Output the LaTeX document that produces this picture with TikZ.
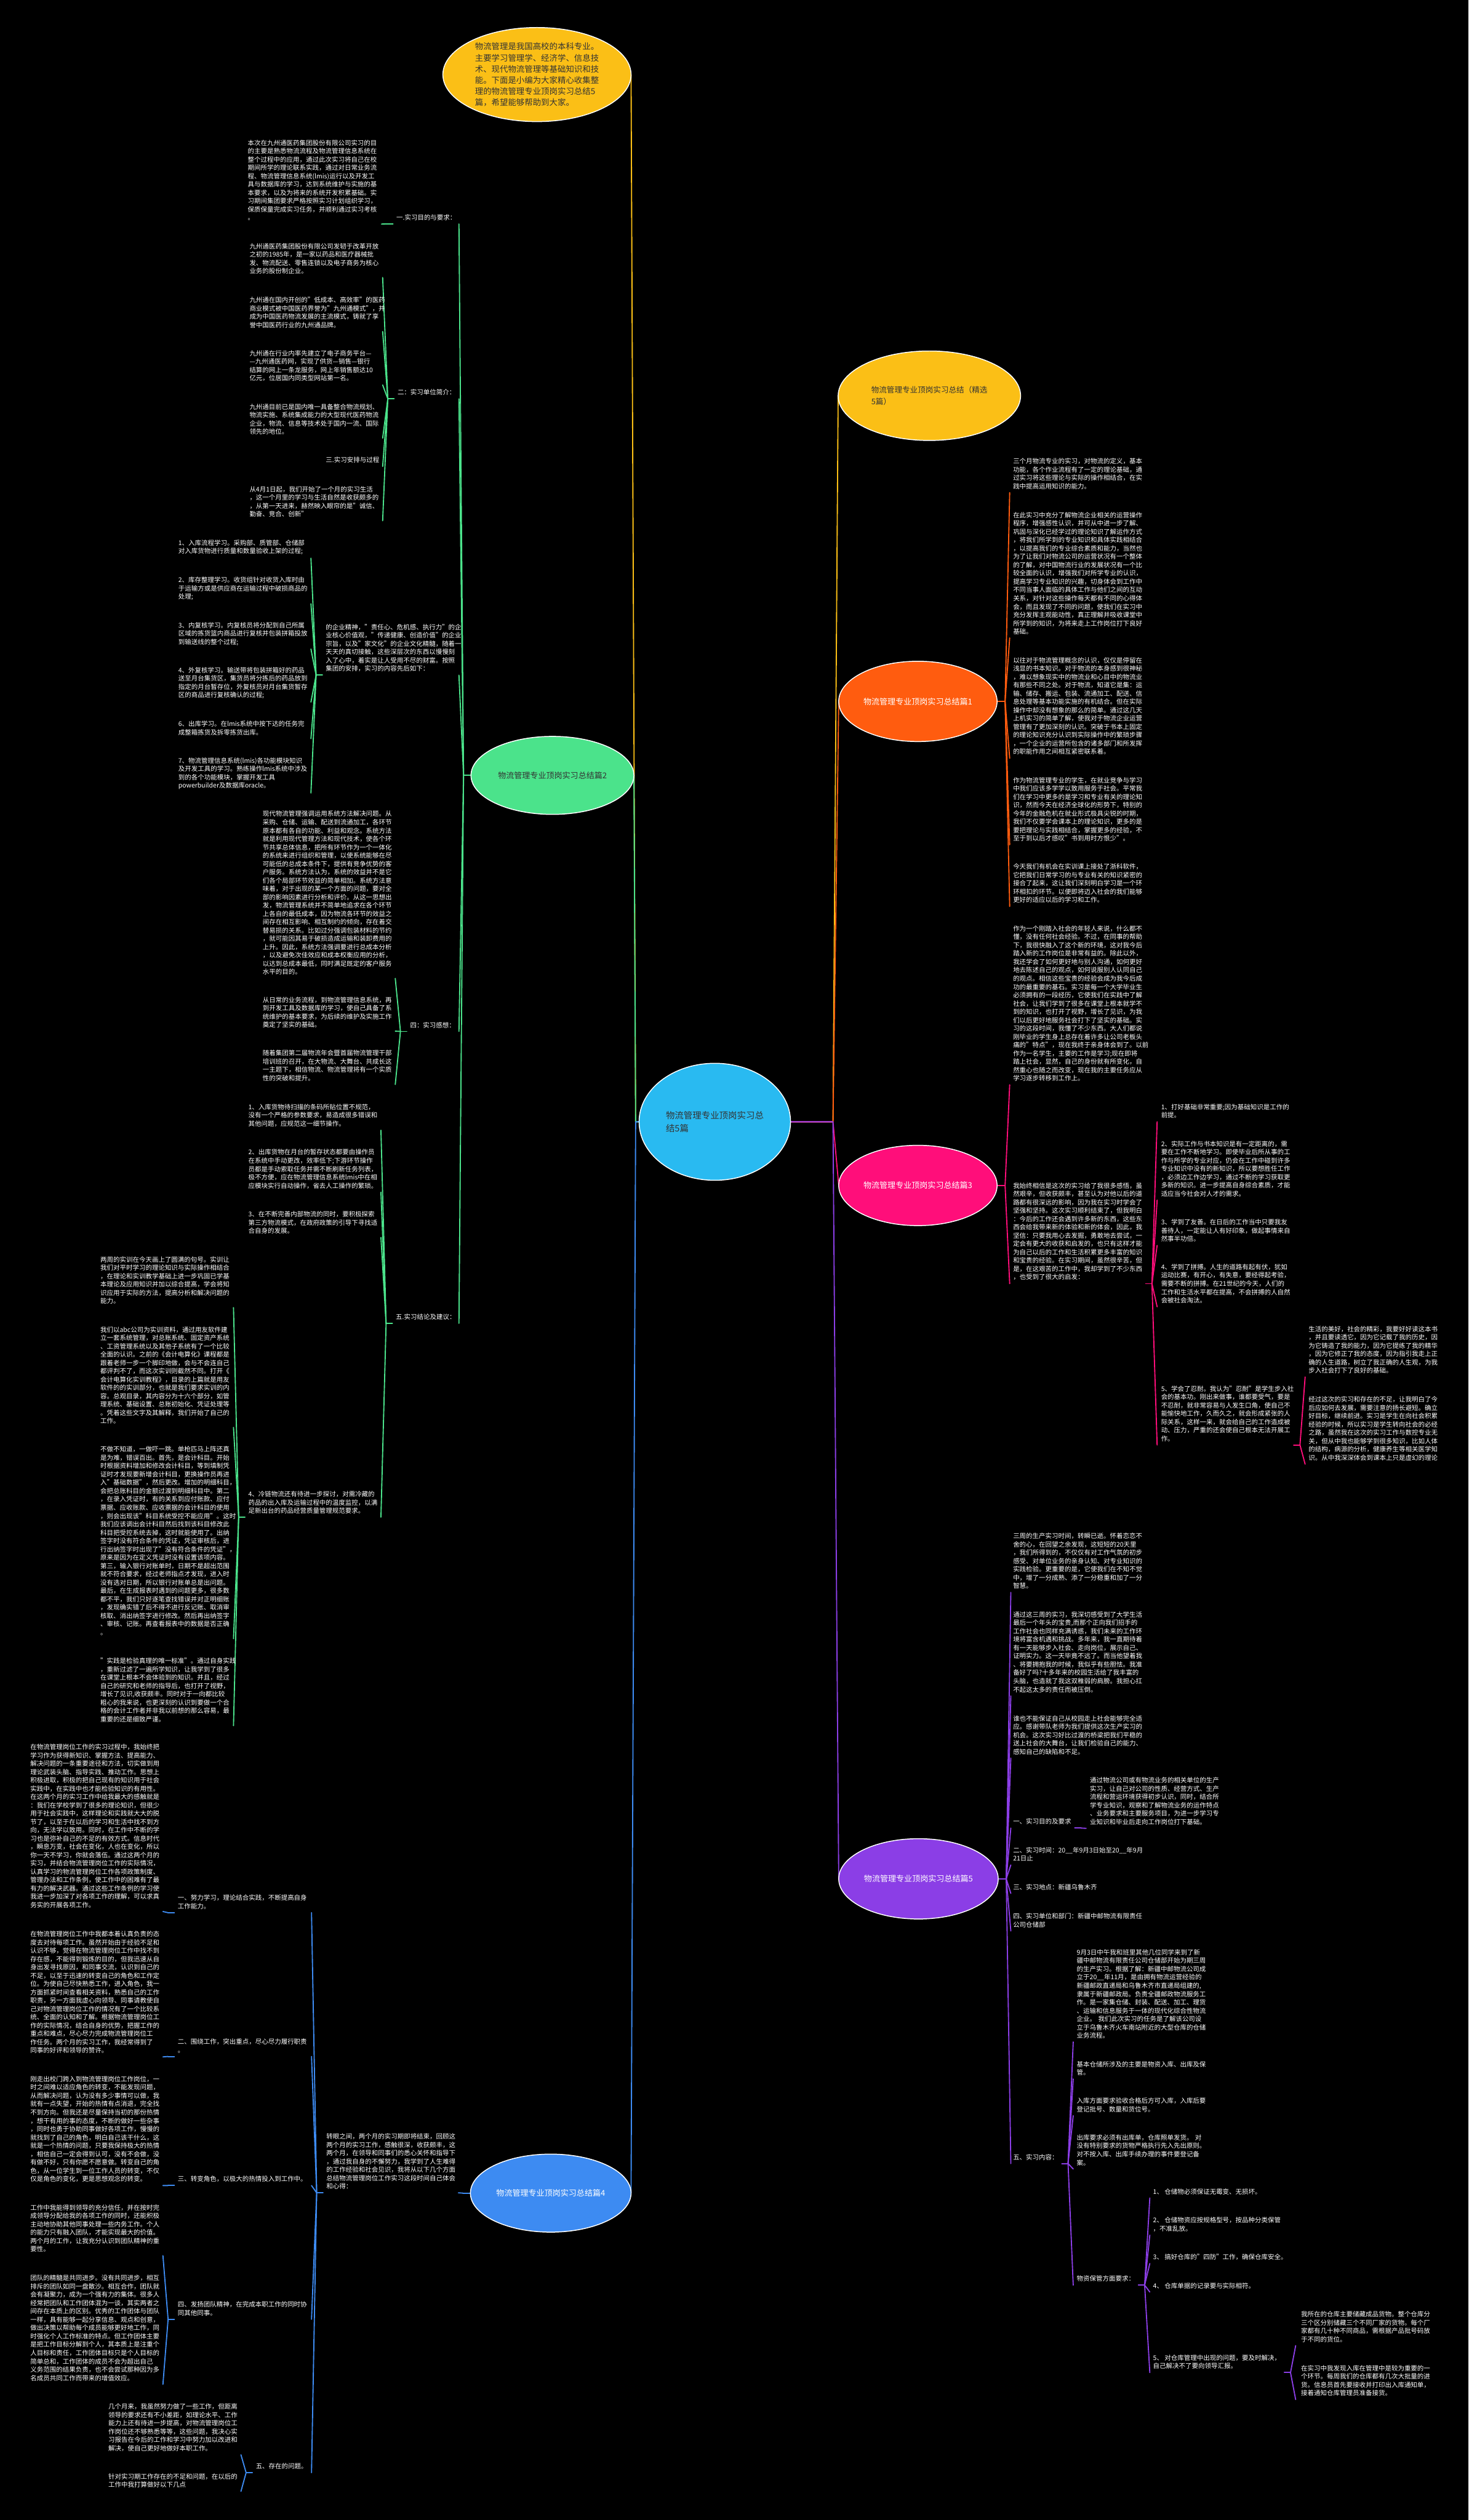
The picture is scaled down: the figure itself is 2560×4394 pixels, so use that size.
\documentclass[tikz,border=0pt]{standalone}
\usepackage{fontspec}
\setmainfont{Noto Sans CJK SC}
\usetikzlibrary{shapes.geometric,calc}
\pgfdeclarelayer{bg}
\pgfsetlayers{bg,main}
\definecolor{cY}{HTML}{FBBF16}
\definecolor{cO}{HTML}{FF5C0F}
\definecolor{cG}{HTML}{4BE38B}
\definecolor{cPk}{HTML}{FF0E7A}
\definecolor{cPu}{HTML}{8B3EE6}
\definecolor{cB}{HTML}{3D8BF2}
\definecolor{cC}{HTML}{29BAF1}
\definecolor{cD}{HTML}{333333}
\newcommand{\fsA}{\fontsize{11.25pt}{14.5pt}\selectfont}
\newcommand{\fsB}{\fontsize{14pt}{19.4pt}\selectfont}
\newcommand{\fsC}{\fontsize{15.5pt}{22pt}\selectfont}
\tikzset{
 base/.style={inner sep=0pt,outer sep=0pt,text=white,font=\fsA,align=left},
 blk/.style={base,text width=225pt,anchor=north west},
 lab/.style={base,anchor=north west},
 bigE/.style={ellipse,draw=white,line width=1.6pt,inner sep=0pt,outer sep=0pt,font=\fsB,align=left},
 conn/.style={line width=2pt,line cap=round,line join=round}
}
\newcommand{\fanL}[3]{%
  \coordinate (fS) at ([xshift=-6pt,yshift=-6pt]#2.south west);
  \coordinate (fJ) at ([xshift=-17pt,yshift=-6pt]#2.south west);
  \coordinate (fT) at ([xshift=-26pt]#2.south west);
  \draw[conn,#1] (fS) -- (fJ);
  \foreach \n in {#3}{\draw[conn,#1] (fJ) -- ([yshift=-6pt]\n.south east -| fT);}%
}
\newcommand{\fanR}[3]{%
  \coordinate (fS) at ([xshift=6pt,yshift=-6pt]#2.south east);
  \coordinate (fJ) at ([xshift=17pt,yshift=-6pt]#2.south east);
  \coordinate (fT) at ([xshift=26pt]#2.south east);
  \draw[conn,#1] (fS) -- (fJ);
  \foreach \n in {#3}{\draw[conn,#1] (fJ) -- ([yshift=-6pt]\n.south west -| fT);}%
}
\newcommand{\fanEL}[3]{%
  \coordinate (fJ) at ([xshift=-13pt]#2.west);
  \coordinate (fT) at ([xshift=-21pt]#2.west);
  \draw[conn,#1] (#2.west) -- (fJ);
  \foreach \n in {#3}{\draw[conn,#1] (fJ) -- ([yshift=-6pt]\n.south east -| fT);}%
}
\newcommand{\fanER}[3]{%
  \coordinate (fJ) at ([xshift=14pt]#2.east);
  \coordinate (fT) at ([xshift=22pt]#2.east);
  \draw[conn,#1] (#2.east) -- (fJ);
  \foreach \n in {#3}{\draw[conn,#1] (fJ) -- ([yshift=-6pt]\n.south west -| fT);}%
}
\begin{document}
\begin{tikzpicture}[x=1pt,y=-1pt]
\begin{pgfonlayer}{bg}
\fill[black] (0,0) rectangle (2560,4394);
\end{pgfonlayer}
\useasboundingbox (0,0) rectangle (2560,4394);

% ---------- main nodes ----------
\node[bigE,fill=cC,text=cD,font=\fsC,minimum width=264pt,minimum height=204pt] (ctr) at (1246,1956) {物流管理专业顶岗实习总\\结5篇};
\node[bigE,fill=cY,text=cD,font=\fontsize{14.4pt}{19.4pt}\selectfont,minimum width=328pt,minimum height=164pt] (bub) at (936,130) {物流管理是我国高校的本科专业。\\主要学习管理学、经济学、信息技\\术、现代物流管理等基础知识和技\\能。下面是小编为大家精心收集整\\理的物流管理专业顶岗实习总结5\\篇，希望能够帮助到大家。};
\node[bigE,fill=cY,text=cD,font=\fontsize{13.5pt}{20pt}\selectfont,minimum width=318pt,minimum height=156pt] (sel) at (1620,690) {物流管理专业顶岗实习总结（精选\\5篇）};
\node[bigE,fill=cO,text=white,minimum width=276pt,minimum height=140pt] (p1) at (1600,1223) {物流管理专业顶岗实习总结篇1};
\node[bigE,fill=cG,text=cD,minimum width=284pt,minimum height=136pt] (p2) at (963,1352) {物流管理专业顶岗实习总结篇2};
\node[bigE,fill=cPk,text=white,minimum width=276pt,minimum height=140pt] (p3) at (1600,2067) {物流管理专业顶岗实习总结篇3};
\node[bigE,fill=cB,text=white,minimum width=280pt,minimum height=136pt] (p4) at (960,3824) {物流管理专业顶岗实习总结篇4};
\node[bigE,fill=cPu,text=white,minimum width=278pt,minimum height=140pt] (p5) at (1601,3276) {物流管理专业顶岗实习总结篇5};

% ---------- green (篇2) ----------
\node[lab] (g1) at (691,374) {一.实习目的与要求：};
\node[blk] (g1a) at (432,244) {本次在九州通医药集团股份有限公司实习的目\\的主要是熟悉物流流程及物流管理信息系统在\\整个过程中的应用，通过此次实习将自己在校\\期间所学的理论联系实践，通过对日常业务流\\程、物流管理信息系统(lmis)运行以及开发工\\具与数据库的学习，达到系统维护与实施的基\\本要求，以及为将来的系统开发积累基础。实\\习期间集团要求严格按照实习计划组织学习，\\保质保量完成实习任务，并顺利通过实习考核\\。};
\node[lab] (g2) at (693,679) {二：实习单位简介：};
\node[blk] (g2a) at (435,424) {九州通医药集团股份有限公司发轫于改革开放\\之初的1985年，是一家以药品和医疗器械批\\发、物流配送、零售连锁以及电子商务为核心\\业务的股份制企业。};
\node[blk] (g2b) at (435,518) {九州通在国内开创的"低成本、高效率"的医药\\商业模式被中国医药界誉为"九州通模式"，并\\成为中国医药物流发展的主流模式，铸就了享\\誉中国医药行业的九州通品牌。};
\node[blk] (g2c) at (435,611) {九州通在行业内率先建立了电子商务平台—\\—九州通医药网，实现了供货—销售—银行\\结算的网上一条龙服务，网上年销售额达10\\亿元，位居国内同类型网站第一名。};
\node[blk] (g2d) at (435,704) {九州通目前已是国内唯一具备整合物流规划、\\物流实施、系统集成能力的大型现代医药物流\\企业，物流、信息等技术处于国内一流、国际\\领先的地位。};
\node[lab] (g2e) at (568,797) {三.实习安排与过程};
\node[blk] (g2f) at (435,848) {从4月1日起，我们开始了一个月的实习生活\\，这一个月里的学习与生活自然是收获颇多的\\，从第一天进来，赫然映入眼帘的是"诚信、\\勤奋、竞合、创新"};
\node[blk] (g3) at (568,1088) {的企业精神，"责任心、危机感、执行力"的企\\业核心价值观，"传递健康、创造价值"的企业\\宗旨，以及"家文化"的企业文化精髓，随着一\\天天的真切接触，这些深层次的东西以慢慢刻\\入了心中，着实是让人受用不尽的财富。按照\\集团的安排，实习的内容先后如下：};
\node[blk] (g3a) at (311,941) {1、入库流程学习。采购部、质管部、仓储部\\对入库货物进行质量和数量验收上架的过程;};
\node[blk] (g3b) at (311,1006) {2、库存整理学习。收货组针对收货入库时由\\于运输方或是供应商在运输过程中破损商品的\\处理;};
\node[blk] (g3c) at (311,1085) {3、内复核学习。内复核员将分配到自己所属\\区域的拣货篮内商品进行复核并包装拼箱投放\\到输送线的整个过程;};
\node[blk] (g3d) at (311,1163) {4、外复核学习。输送带将包装拼箱好的药品\\送至月台集货区，集货员将分拣后的药品放到\\指定的月台暂存位，外复核员对月台集货暂存\\区的商品进行复核确认的过程;};
\node[blk] (g3e) at (311,1257) {6、出库学习。在lmis系统中按下达的任务完\\成整箱拣货及拆零拣货出库。};
\node[blk] (g3f) at (311,1321) {7、物流管理信息系统(lmis)各功能模块知识\\及开发工具的学习。熟练操作lmis系统中涉及\\到的各个功能模块，掌握开发工具\\powerbuilder及数据库oracle。};
\node[lab] (g4) at (715,1782) {四：实习感想：};
\node[blk] (g4a) at (458,1414) {现代物流管理强调运用系统方法解决问题。从\\采购、仓储、运输、配送到流通加工，各环节\\原本都有各自的功能、利益和观念。系统方法\\就是利用现代管理方法和现代技术，使各个环\\节共享总体信息，把所有环节作为一个一体化\\的系统来进行组织和管理，以使系统能够在尽\\可能低的总成本条件下，提供有竞争优势的客\\户服务。系统方法认为，系统的效益并不是它\\们各个局部环节效益的简单相加。系统方法意\\味着，对于出现的某一个方面的问题，要对全\\部的影响因素进行分析和评价。从这一思想出\\发，物流管理系统并不简单地追求在各个环节\\上各自的最低成本，因为物流各环节的效益之\\间存在相互影响、相互制约的倾向，存在着交\\替易损的关系。比如过分强调包装材料的节约\\，就可能因其易于破损造成运输和装卸费用的\\上升。因此，系统方法强调要进行总成本分析\\，以及避免次佳效应和成本权衡应用的分析，\\以达到总成本最低，同时满足既定的客户服务\\水平的目的。};
\node[blk] (g4b) at (458,1738) {从日常的业务流程，到物流管理信息系统，再\\到开发工具及数据库的学习，使自己具备了系\\统维护的基本要求，为后续的维护及实施工作\\奠定了坚实的基础。};
\node[blk] (g4c) at (458,1831) {随着集团第二届物流年会暨首届物流管理干部\\培训班的召开，在大物流、大舞台、共成长这\\一主题下，相信物流、物流管理将有一个实质\\性的突破和提升。};
\node[lab] (g5) at (690,2291) {五.实习结论及建议：};
\node[blk] (g5a) at (433,1925) {1、入库货物待扫描的条码所贴位置不规范，\\没有一个严格的参数要求，易造成很多错误和\\其他问题，应规范这一细节操作。};
\node[blk] (g5b) at (433,2004) {2、出库货物在月台的暂存状态都要由操作员\\在系统中手动更改，效率低下;下游环节操作\\员都是手动索取任务并需不断刷新任务列表，\\极不方便，应在物流管理信息系统lmis中在相\\应模块实行自动操作，省去人工操作的繁琐。};
\node[blk] (g5c) at (433,2112) {3、在不断完善内部物流的同时，要积极探索\\第三方物流模式，在政府政策的引导下寻找适\\合自身的发展。};
\node[blk] (g5d) at (433,2600) {4、冷链物流还有待进一步探讨，对需冷藏的\\药品的出入库及运输过程中的温度监控，以满\\足新出台的药品经营质量管理规范要求。};
\node[blk] (g5d1) at (175,2191) {两周的实训在今天画上了圆满的句号。实训让\\我们对平时学习的理论知识与实际操作相结合\\，在理论和实训教学基础上进一步巩固已学基\\本理论及应用知识并加以综合提高，学会将知\\识应用于实际的方法，提高分析和解决问题的\\能力。};
\node[blk] (g5d2) at (175,2313) {我们以abc公司为实训资料，通过用友软件建\\立一套系统管理，对总账系统、固定资产系统\\、工资管理系统以及其他子系统有了一个比较\\全面的认识。之前的《会计电算化》课程都是\\跟着老师一步一个脚印地做，会与不会连自己\\都评判不了，而这次实训则截然不同。打开《\\会计电算化实训教程》，目录的上篇就是用友\\软件的的实训部分，也就是我们要求实训的内\\容。总观目录，其内容分为十六个部分，如管\\理系统、基础设置、总账初始化、凭证处理等\\。凭着这些文字及其解释，我们开始了自己的\\工作。};
\node[blk] (g5d3) at (175,2522) {不做不知道，一做吓一跳。单枪匹马上阵还真\\是为难，错误百出。首先，是会计科目。开始\\时根据资料增加和修改会计科目，等到填制凭\\证时才发现要新增会计科目，更换操作员再进\\入"基础数据"，然后更改。增加的明细科目，\\会把总账科目的金额过渡到明细科目中。第二\\，在录入凭证时，有的关系到应付账款、应付\\票据、应收账款、应收票据的会计科目的使用\\，则会出现该"科目系统受控不能应用"。这时\\我们应该调出会计科目然后找到该科目修改此\\科目把受控系统去掉，这时就能使用了。出纳\\签字时没有符合条件的凭证，凭证审核后，进\\行出纳签字时出现了"没有符合条件的凭证"，\\原来是因为在定义凭证时没有设置该项内容。\\第三，输入银行对账单时，日期不是超出范围\\就不符合要求，经过老师指点才发现，进入时\\没有选对日期，所以银行对账单总是出问题。\\最后，在生成报表时遇到的问题更多，很多数\\都不平，我们只好逐笔查找错误并对正明细账\\，发现确实错了后不得不进行反记账、取消审\\核取、消出纳签字进行修改。然后再出纳签字\\、审核、记账。再查看报表中的数据是否正确\\。};
\node[blk] (g5d4) at (175,2891) {"实践是检验真理的唯一标准"。通过自身实践\\，重新过滤了一遍所学知识，让我学到了很多\\在课堂上根本不会体验到的知识。并且，经过\\自己的研究和老师的指导后，也打开了视野，\\增长了见识,收获颇丰。同时对于一向都比较\\粗心的我来说，也更深刻的认识到要做一个合\\格的会计工作者并非我以前想的那么容易，最\\重要的还是细致严谨。};

% ---------- blue (篇4) ----------
\node[blk] (b0) at (569,3720) {转眼之间，两个月的实习期即将结束，回顾这\\两个月的实习工作，感触很深，收获颇丰，这\\两个月，在领导和同事们的悉心关怀和指导下\\，通过我自身的不懈努力，我学到了人生难得\\的工作经验和社会见识，我将从以下几个方面\\总结物流管理岗位工作实习这段时间自己体会\\和心得：};
\node[lab] (b1) at (310,3304) {一、努力学习，理论结合实践，不断提高自身\\工作能力。};
\node[blk] (b1a) at (53,3041) {在物流管理岗位工作的实习过程中，我始终把\\学习作为获得新知识、掌握方法、提高能力、\\解决问题的一条重要途径和方法，切实做到用\\理论武装头脑、指导实践、推动工作。思想上\\积极进取，积极的把自己现有的知识用于社会\\实践中，在实践中也才能检验知识的有用性。\\在这两个月的实习工作中给我最大的感触就是\\：我们在学校学到了很多的理论知识，但很少\\用于社会实践中，这样理论和实践就大大的脱\\节了，以至于在以后的学习和生活中找不到方\\向，无法学以致用。同时，在工作中不断的学\\习也是弥补自己的不足的有效方式。信息时代\\，瞬息万变，社会在变化，人也在变化，所以\\你一天不学习，你就会落伍。通过这两个月的\\实习，并结合物流管理岗位工作的实际情况，\\认真学习的物流管理岗位工作各项政策制度、\\管理办法和工作条例，使工作中的困难有了最\\有力的解决武器。通过这些工作条例的学习使\\我进一步加深了对各项工作的理解，可以求真\\务实的开展各项工作。};
\node[lab] (b2) at (310,3555) {二、围绕工作，突出重点，尽心尽力履行职责\\。};
\node[blk] (b2a) at (53,3367) {在物流管理岗位工作中我都本着认真负责的态\\度去对待每项工作。虽然开始由于经验不足和\\认识不够，觉得在物流管理岗位工作中找不到\\存在感，不能得到锻炼的目的，但我迅速从自\\身出发寻找原因，和同事交流，认识到自己的\\不足，以至于迅速的转变自己的角色和工作定\\位。为使自己尽快熟悉工作，进入角色，我一\\方面抓紧时间查看相关资料，熟悉自己的工作\\职责，另一方面我虚心向领导、同事请教使自\\己对物流管理岗位工作的情况有了一个比较系\\统、全面的认知和了解。根据物流管理岗位工\\作的实际情况，结合自身的优势，把握工作的\\重点和难点，尽心尽力完成物流管理岗位工\\作任务。两个月的实习工作，我经常得到了\\同事的好评和领导的赞许。};
\node[lab] (b3) at (310,3794) {三、转变角色，以极大的热情投入到工作中。};
\node[blk] (b3a) at (53,3620) {刚走出校门跨入到物流管理岗位工作岗位，一\\时之间难以适应角色的转变，不能发现问题，\\从而解决问题，认为没有多少事情可以做，我\\就有一点失望，开始的热情有点消退，完全找\\不到方向。但我还是尽量保持当初的那份热情\\，想干有用的事的态度，不断的做好一些杂事\\，同时也勇于协助同事做好各项工作，慢慢的\\就找到了自己的角色，明白自己该干什么，这\\就是一个热情的问题，只要我保持极大的热情\\，相信自己一定会得到认可，没有不会做，没\\有做不好，只有你愿不愿意做。转变自己的角\\色，从一位学生到一位工作人员的转变，不仅\\仅是角色的变化，更是思想观念的转变。};
\node[lab] (b4) at (310,4013) {四、发扬团队精神，在完成本职工作的同时协\\同其他同事。};
\node[blk] (b4a) at (53,3844) {工作中我能得到领导的充分信任，并在按时完\\成领导分配给我的各项工作的同时，还能积极\\主动地协助其他同事处理一些内务工作。个人\\的能力只有融入团队，才能实现最大的价值。\\两个月的工作，让我充分认识到团队精神的重\\要性。};
\node[blk] (b4b) at (53,3967) {团队的精髓是共同进步。没有共同进步，相互\\排斥的团队如同一盘散沙。相互合作，团队就\\会有凝聚力，成为一个强有力的集体。很多人\\经常把团队和工作团体混为一谈，其实两者之\\间存在本质上的区别。优秀的工作团体与团队\\一样，具有能够一起分享信息、观点和创意，\\做出决策以帮助每个成员能够更好地工作，同\\时强化个人工作标准的特点。但工作团体主要\\是把工作目标分解到个人，其本质上是注重个\\人目标和责任，工作团体目标只是个人目标的\\简单总和，工作团体的成员不会为超出自己\\义务范围的结果负责，也不会尝试那种因为多\\名成员共同工作而带来的增值效应。};
\node[lab] (b5) at (446,4295) {五、存在的问题。};
\node[blk] (b5a) at (189,4191) {几个月来，我虽然努力做了一些工作，但距离\\领导的要求还有不小差距，如理论水平、工作\\能力上还有待进一步提高，对物流管理岗位工\\作岗位还不够熟悉等等，这些问题，我决心实\\习报告在今后的工作和学习中努力加以改进和\\解决，使自己更好地做好本职工作。};
\node[blk] (b5b) at (189,4313) {针对实习期工作存在的不足和问题，在以后的\\工作中我打算做好以下几点};

% ---------- orange (篇1) ----------
\node[blk] (o1) at (1766,799) {三个月物流专业的实习，对物流的定义，基本\\功能，各个作业流程有了一定的理论基础，通\\过实习将这些理论与实际的操作相结合，在实\\践中提高运用知识的能力。};
\node[blk] (o2) at (1766,893) {在此实习中充分了解物流企业相关的运营操作\\程序，增强感性认识，并可从中进一步了解、\\巩固与深化已经学过的理论知识了解运作方式\\，将我们所学到的专业知识和具体实践相结合\\，以提高我们的专业综合素质和能力，当然也\\为了让我们对物流公司的运营状况有一个整体\\的了解，对中国物流行业的发展状况有一个比\\较全面的认识，增强我们对所学专业的认识，\\提高学习专业知识的兴趣，切身体会到工作中\\不同当事人面临的具体工作与他们之间的互动\\关系，对针对这些操作每天都有不同的心得体\\会，而且发现了不同的问题，使我们在实习中\\充分发挥主观能动性，真正理解并吸收课堂中\\所学到的知识，为将来走上工作岗位打下良好\\基础。};
\node[blk] (o3) at (1766,1146) {以往对于物流管理概念的认识，仅仅是停留在\\浅显的书本知识。对于物流的本身感到很神秘\\，难以想象现实中的物流业和心目中的物流业\\有那些不同之处。对于物流，知道它是集：运\\输、储存、搬运、包装、流通加工、配送、信\\息处理等基本功能实施的有机结合。但在实际\\操作中却没有想象的那么的简单。通过这几天\\上机实习的简单了解，使我对于物流企业运营\\管理有了更加深刻的认识。突破于书本上固定\\的理论知识充分认识到实际操作中的繁琐步骤\\，一个企业的运营所包含的诸多部门和所发挥\\的职能作用之间相互紧密联系着。};
\node[blk] (o4) at (1766,1355) {作为物流管理专业的学生，在就业竞争与学习\\中我们应该多学学以致用服务于社会。平常我\\们在学习中更多的是学习和专业有关的理论知\\识，然而今天在经济全球化的形势下，特别的\\今年的金融危机在就业形式极具尖锐的时期，\\我们不仅要学会课本上的理论知识，更多的是\\要把理论与实践相结合，掌握更多的经验，不\\至于到以后才感叹"书到用时方恨少"。};
\node[blk] (o5) at (1766,1506) {今天我们有机会在实训课上接处了浙科软件，\\它把我们日常学习的与专业有关的知识紧密的\\接合了起来，这让我们深刻明白学习是一个环\\环相扣的环节。以便即将迈入社会的我们能够\\更好的适应以后的学习和工作。};

% ---------- pink (篇3) ----------
\node[blk] (k1) at (1766,1614) {作为一个刚踏入社会的年轻人来说，什么都不\\懂，没有任何社会经验。不过，在同事的帮助\\下，我很快融入了这个新的环境，这对我今后\\踏入新的工作岗位是非常有益的。除此以外，\\我还学会了如何更好地与别人沟通，如何更好\\地去陈述自己的观点，如何说服别人认同自己\\的观点。相信这些宝贵的经验会成为我今后成\\功的最重要的基石。实习是每一个大学毕业生\\必须拥有的一段经历，它使我们在实践中了解\\社会，让我们学到了很多在课堂上根本就学不\\到的知识，也打开了视野，增长了见识，为我\\们以后更好地服务社会打下了坚实的基础。实\\习的这段时间，我懂了不少东西。大人们都说\\刚毕业的学生身上总存在着许多让公司老板头\\痛的"特点"，现在我终于亲身体会到了。以前\\作为一名学生，主要的工作是学习;现在即将\\踏上社会，显然，自己的身份就有所变化，自\\然重心也随之而改变，现在我的主要任务应从\\学习逐步转移到工作上。};
\node[blk] (k2) at (1766,2062) {我始终相信是这次的实习给了我很多感悟，虽\\然艰辛，但收获颇丰，甚至认为对他以后的道\\路都有很深远的影响，因为我在实习时学会了\\坚强和坚持。这次实习顺利结束了，但我明白\\：今后的工作还会遇到许多新的东西，这些东\\西会给我带来新的体验和新的体会，因此，我\\坚信：只要我用心去发掘，勇敢地去尝试，一\\定会有更大的收获和启发的，也只有这样才能\\为自己以后的工作和生活积累更多丰富的知识\\和宝贵的经验。在实习期间，虽然很辛苦，但\\是，在这艰苦的工作中，我却学到了不少东西\\，也受到了很大的启发：};
\node[blk] (k2a) at (2024,1925) {1、打好基础非常重要;因为基础知识是工作的\\前提。};
\node[blk] (k2b) at (2024,1989) {2、实际工作与书本知识是有一定距离的，需\\要在工作不断地学习。即使毕业后所从事的工\\作与所学的专业对应，仍会在工作中碰到许多\\专业知识中没有的新知识，所以要想胜任工作\\，必须边工作边学习，通过不断的学习获取更\\多新的知识。进一步提高自身综合素质，才能\\适应当今社会对人才的需求。};
\node[blk] (k2c) at (2024,2126) {3、学到了友善。在日后的工作当中只要我友\\善待人，一定能让人有好印象，做起事情来自\\然事半功倍。};
\node[blk] (k2d) at (2024,2204) {4、学到了拼搏。人生的道路有起有伏，犹如\\运动比赛，有开心，有失意，要经得起考验，\\需要不断的拼搏。在21世纪的今天，人们的\\工作和生活水平都在提高，不会拼搏的人自然\\会被社会淘汰。};
\node[blk] (k2e) at (2024,2416) {5、学会了忍耐。我认为"忍耐"是学生步入社\\会的基本功。刚出来做事，谁都要受气，要是\\不忍耐，就非常容易与人发生口角，使自己不\\能愉快地工作，久而久之，就会形成紧张的人\\际关系，这样一来，就会给自己的工作造成被\\动、压力，严重的还会使自己根本无法开展工\\作。};
\node[blk] (r1) at (2281,2312) {生活的美好，社会的精彩，我要好好读这本书\\，并且要读透它，因为它记载了我的历史，因\\为它铸造了我的能力，因为它提练了我的精华\\，因为它修正了我的态度，因为指引我走上正\\确的人生道路，树立了我正确的人生观，为我\\步入社会打下了良好的基础。};
\node[blk] (r2) at (2281,2435) {经过这次的实习和存在的不足，让我明白了今\\后应如何去发展，需要注意的扬长避短。确立\\好目标，继续前进。实习是学生在向社会积累\\经验的时候，所以实习是学生转向社会的必经\\之路，虽然我在这次的实习工作与数控专业无\\关，但从中我也能够学到很多知识，比如人体\\的结构，病源的分析，健康养生等相关医学知\\识。从中我深深体会到课本上只是虚幻的理论};

% ---------- purple (篇5) ----------
\node[blk] (u1) at (1766,2673) {三周的生产实习时间，转瞬已逝。怀着恋恋不\\舍的心，在回望之余发现，这短短的20天里\\，我们所得到的，不仅仅有对工作气氛的初步\\感受、对单位业务的亲身认知、对专业知识的\\实践检验。更重要的是，它使我们在不知不觉\\中，增了一分成熟、添了一分稳重和加了一分\\智慧。};
\node[blk] (u2) at (1766,2810) {通过这三周的实习，我深切感受到了大学生活\\最后一个年头的宝贵,而那个正向我们招手的\\工作社会也同样充满诱惑，我们未来的工作环\\境将富含机遇和挑战。多年来，我一直期待着\\有一天能够步入社会、走向岗位，展示自己、\\证明实力。这一天毕竟不远了。而当他望着我\\、将要拥抱我的时候，我似乎有些胆怯。我准\\备好了吗?十多年来的校园生活给了我丰富的\\头脑，也造就了我这双稚弱的肩膀。我担心扛\\不起这太多的责任而被压倒。};
\node[blk] (u3) at (1766,2991) {谁也不能保证自己从校园走上社会能够完全适\\应。感谢带队老师为我们提供这次生产实习的\\机会。这次实习好比过渡的桥梁把我们平稳的\\送上社会的大舞台，让我们检验自己的能力、\\感知自己的缺陷和不足。};
\node[lab] (u4) at (1766,3171) {一、实习目的及要求};
\node[blk] (u4a) at (1900,3099) {通过物流公司或有物流业务的相关单位的生产\\实习，让自己对公司的性质、经营方式、生产\\流程和营运环境获得初步认识，同时，结合所\\学专业知识，观察和了解物流业务的运作特点\\、业务要求和主要服务项目，为进一步学习专\\业知识和毕业后走向工作岗位打下基础。};
\node[lab] (u5) at (1766,3221) {二、实习时间：20\_\_年9月3日始至20\_\_年9月\\21日止};
\node[lab] (u6) at (1766,3285) {三、实习地点：新疆乌鲁木齐};
\node[lab] (u7) at (1766,3336) {四、实习单位和部门：新疆中邮物流有限责任\\公司仓储部};
\node[lab] (u8) at (1766,3756) {五、实习内容：};
\node[blk] (v1) at (1877,3399) {9月3日中午我和班里其他几位同学来到了新\\疆中邮物流有限责任公司仓储部开始为期三周\\的生产实习。根据了解：新疆中邮物流公司成\\立于20\_\_年11月，是由拥有物流运营经验的\\新疆邮政直递局和乌鲁木齐市直递局组建的,\\隶属于新疆邮政局。负责全疆邮政物流服务工\\作。是一家集仓储、封装、配送、加工、理货\\、运输和信息服务于一体的现代化综合性物流\\企业。 我们此次实习的任务是了解该公司设\\立于乌鲁木齐火车南站附近的大型仓库的仓储\\业务流程。};
\node[blk] (v2) at (1877,3594) {基本仓储所涉及的主要是物资入库、出库及保\\管。};
\node[blk] (v3) at (1877,3658) {入库方面要求验收合格后方可入库，入库后要\\登记批号、数量和货位号。};
\node[blk] (v4) at (1877,3722) {出库要求必须有出库单，仓库照单发货。 对\\没有特别要求的货物严格执行先入先出原则。\\ 对不按入库、出库手续办理的事件要登记备\\案。};
\node[lab] (v5) at (1877,3968) {物资保管方面要求：};
\node[lab] (w1) at (2010,3816) {1、 仓储物必须保证无霉变、无损坏。};
\node[lab] (w2) at (2010,3866) {2、 仓储物资应按规格型号，按品种分类保管\\，不准乱放。};
\node[lab] (w3) at (2010,3930) {3、 搞好仓库的"四防"工作，确保仓库安全。};
\node[lab] (w4) at (2010,3980) {4、 仓库单据的记录要与实际相符。};
\node[lab] (w5) at (2010,4106) {5、 对仓库管理中出现的问题，要及时解决，\\自己解决不了要向领导汇报。};
\node[blk] (x1) at (2268,4030) {我所在的仓库主要储藏成品货物。整个仓库分\\三个区分别储藏三个不同厂家的货物。每个厂\\家都有几十种不同商品，需根据产品批号码放\\于不同的货位。};
\node[blk] (x2) at (2268,4124) {在实习中我发现入库在管理中是较为重要的一\\个环节。每周我们的仓库都有几次大批量的进\\货。信息员首先要接收并打印出入库通知单，\\接着通知仓库管理员准备接货。};

% ---------- connectors ----------
\begin{pgfonlayer}{bg}
\coordinate (cjl) at ([xshift=-6pt]ctr.west);
\coordinate (cjr) at ([xshift=74pt]ctr.east);
\draw[conn,cY] (ctr.west) -- (cjl) -- (bub.east);
\draw[conn,cG] (ctr.west) -- (cjl) -- (p2.east);
\draw[conn,cB] (ctr.west) -- (cjl) -- (p4.east);
\draw[conn,cY] (ctr.east) -- (cjr) -- (sel.west);
\draw[conn,cO] (ctr.east) -- (cjr) -- (p1.west);
\draw[conn,cPk] (ctr.east) -- (cjr) -- (p3.west);
\draw[conn,cPu] (ctr.east) -- (cjr) -- (p5.west);

\fanEL{cG}{p2}{g1,g2,g3,g4,g5}
\fanL{cG}{g1}{g1a}
\fanL{cG}{g2}{g2a,g2b,g2c,g2d,g2e,g2f}
\fanL{cG}{g3}{g3a,g3b,g3c,g3d,g3e,g3f}
\fanL{cG}{g4}{g4a,g4b,g4c}
\fanL{cG}{g5}{g5a,g5b,g5c,g5d}
\fanL{cG}{g5d}{g5d1,g5d2,g5d3,g5d4}

\fanEL{cB}{p4}{b0}
\fanL{cB}{b0}{b1,b2,b3,b4,b5}
\fanL{cB}{b1}{b1a}
\fanL{cB}{b2}{b2a}
\fanL{cB}{b3}{b3a}
\fanL{cB}{b4}{b4a,b4b}
\fanL{cB}{b5}{b5a,b5b}

\fanER{cO}{p1}{o1,o2,o3,o4,o5}
\fanER{cPk}{p3}{k1,k2}
\fanR{cPk}{k2}{k2a,k2b,k2c,k2d,k2e}
\fanR{cPk}{k2e}{r1,r2}
\fanER{cPu}{p5}{u1,u2,u3,u4,u5,u6,u7,u8}
\fanR{cPu}{u4}{u4a}
\fanR{cPu}{u8}{v1,v2,v3,v4,v5}
\fanR{cPu}{v5}{w1,w2,w3,w4,w5}
\fanR{cPu}{w5}{x1,x2}
\end{pgfonlayer}
\end{tikzpicture}
\end{document}
